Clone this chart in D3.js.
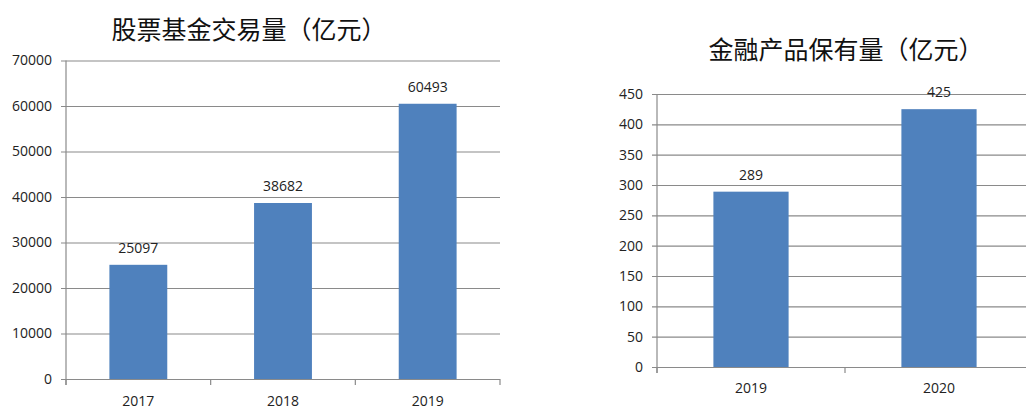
<!DOCTYPE html>
<html>
<head>
<meta charset="utf-8">
<script src="https://cdn.jsdelivr.net/npm/d3@7/dist/d3.min.js"></script>
<style>
  body { margin: 0; background: #fff; }
  svg { display: block; }
  .tick text { font-family: "Open Sans", "Liberation Sans", sans-serif; font-size: 14px; fill: #222; }
</style>
</head>
<body>
<svg id="chart" width="1026" height="410"></svg>
<script>
// left chart: stock fund trading volume
const trade_years = ["2017", "2018", "2019"];
const trade_values = [25097, 38682, 60493];
const trade_ticks = [0, 10000, 20000, 30000, 40000, 50000, 60000, 70000];

// right chart: financial product holdings
const hold_years = ["2019", "2020"];
const hold_values = [289, 425];
const hold_ticks = [0, 50, 100, 150, 200, 250, 300, 350, 400, 450];

const svg = d3.select("#chart")
const gridColor = "#8a8a8a"
const barColor = "#4f81bd"

function drawChart(opt) {
  let g = svg.append("g")

  let x = d3.scaleBand()
    .domain(opt.cats)
    .range([opt.x0, opt.x1])
    .paddingInner(0.6)
    .paddingOuter(0.3)

  let ticks = opt.ticks
  let y = d3.scaleLinear()
    .domain([0, ticks[ticks.length - 1]])
    .range([opt.y0, opt.yTop])

  // title
  g.append("text")
    .attr("x", opt.titleX)
    .attr("y", opt.titleY)
    .attr("text-anchor", "middle")
    .style("font-family", '"Noto Sans CJK SC", sans-serif')
    .style("font-size", "25px")
    .style("fill", "#111")
    .text(opt.title)

  // y axis with gridlines
  let ya = g.append("g")
    .attr("transform", `translate(${opt.x0 - 5},0)`)
    .call(d3.axisLeft(y).tickValues(ticks).tickFormat(d3.format("d"))
      .tickSize(-(opt.x1 - opt.x0 + 5)).tickPadding(9))
  ya.select(".domain").remove()
  ya.selectAll(".tick line").attr("stroke", gridColor).attr("stroke-width", 1.2)

  // vertical axis line
  g.append("line")
    .attr("x1", opt.x0).attr("x2", opt.x0)
    .attr("y1", opt.yTop).attr("y2", opt.y0 + 6)
    .attr("stroke", gridColor).attr("stroke-width", 1.2)

  // category boundary tick marks
  let bounds = d3.range(opt.cats.length + 1).map(i => opt.x0 + i * x.step())
  g.selectAll(".btick").data(bounds).join("line")
    .attr("x1", d => d).attr("x2", d => d)
    .attr("y1", opt.y0).attr("y2", opt.y0 + 6)
    .attr("stroke", gridColor).attr("stroke-width", 1.2)

  // bars
  g.selectAll(".bar").data(opt.values).join("rect")
    .attr("x", (d, i) => x(opt.cats[i]))
    .attr("width", x.bandwidth())
    .attr("y", d => y(d))
    .attr("height", d => opt.y0 - y(d))
    .attr("fill", barColor)

  // value labels
  g.selectAll(".val").data(opt.values).join("text")
    .attr("x", (d, i) => x(opt.cats[i]) + x.bandwidth() / 2)
    .attr("y", d => y(d) - 12)
    .attr("text-anchor", "middle")
    .style("font-family", '"Open Sans", "Liberation Sans", sans-serif')
    .style("font-size", "14px")
    .style("fill", "#222")
    .text(d => d)

  // category labels
  let xa = g.append("g")
    .attr("transform", `translate(0,${opt.y0})`)
    .call(d3.axisBottom(x).tickSize(0).tickPadding(opt.catPad))
  xa.select(".domain").remove()
}

drawChart({
  cats: trade_years, values: trade_values, ticks: trade_ticks,
  x0: 66, x1: 500, y0: 379, yTop: 60.5,
  title: "股票基金交易量（亿元）", titleX: 249, titleY: 39,
  catPad: 17
})

drawChart({
  cats: hold_years, values: hold_values, ticks: hold_ticks,
  x0: 657, x1: 1033, y0: 367, yTop: 94,
  title: "金融产品保有量（亿元）", titleX: 846, titleY: 59,
  catPad: 16
})
</script>
</body>
</html>
